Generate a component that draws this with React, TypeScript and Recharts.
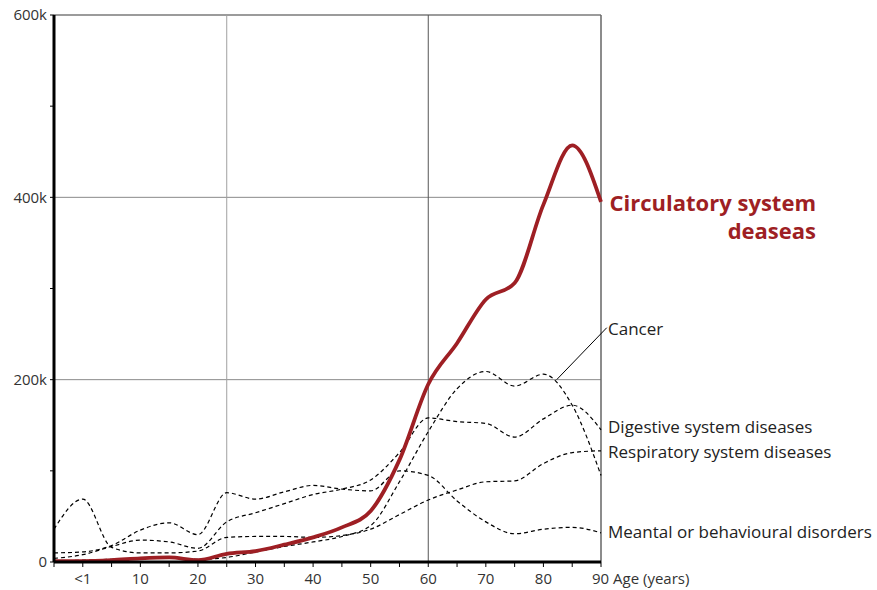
import React from 'react'
import {
  LineChart,
  Line,
  XAxis,
  YAxis,
  ReferenceLine,
  ReferenceDot,
} from 'recharts'

// age groups (-5 is the left edge, 0 is "<1")
const ages = [-5, 0, 5, 10, 15, 20, 25, 30, 35, 40, 45, 50, 55, 60, 65, 70, 75, 80, 85, 90]

// deaths, thousands
const circulatory = [1, 1, 2, 4, 5, 2, 9, 12, 19, 27, 38, 56, 112, 195, 240, 288, 306, 392, 457, 395]
const cancer = [1, 2, 3, 4, 4, 3, 5, 11, 17, 22, 28, 40, 88, 143, 190, 209, 193, 206, 172, 95]
const digestive = [4, 8, 17, 24, 22, 15, 44, 54, 64, 74, 80, 90, 120, 158, 154, 152, 137, 157, 172, 145]
const respiratory = [36, 69, 16, 10, 10, 12, 27, 28, 28, 27, 29, 36, 52, 68, 79, 88, 89, 108, 120, 122]
const mental = [10, 11, 18, 35, 43, 30, 76, 69, 77, 84, 80, 78, 100, 95, 67, 44, 31, 36, 38, 32]

const xTicks = [-5, 0, 5, 10, 15, 20, 25, 30, 35, 40, 45, 50, 55, 60, 65, 70, 75, 80, 85, 90]
const yTicks = [0, 100000, 200000, 300000, 400000, 500000, 600000]

const data = ages.map((age, i) => ({
  age,
  circulatory: circulatory[i] * 1000,
  cancer: cancer[i] * 1000,
  digestive: digestive[i] * 1000,
  respiratory: respiratory[i] * 1000,
  mental: mental[i] * 1000,
}))

const FONT = '"Open Sans", "Noto Sans", sans-serif'
const RED = '#9e1f24'

const XTick = ({ x, y, payload }: any) => {
  const v = payload.value
  let label = ''
  if (v === 0) label = '<1'
  else if (v > 0 && v % 10 === 0) label = String(v)
  if (!label) return null
  if (v === 90) {
    return (
      <text x={x - 9} y={y + 15} fontSize={15} fill="#333" fontFamily={FONT}>
        90 Age (years)
      </text>
    )
  }
  return (
    <text x={x} y={y + 15} textAnchor="middle" fontSize={15} fill="#333" fontFamily={FONT}>
      {label}
    </text>
  )
}

const yFormat = (v: number) => {
  if (v % 200000 !== 0) return ''
  return v === 0 ? '0' : `${v / 1000}k`
}

const sideLabel = (text: string) => (p: any) => {
  const { x, y, height } = p.viewBox
  return (
    <text x={x + 8} y={y + height / 2} dy="0.35em" fontSize={17} fill="#222" fontFamily={FONT}>
      {text}
    </text>
  )
}

const redLabel = (p: any) => {
  const { x, y } = p.viewBox
  return (
    <text textAnchor="end" fontSize={22} fontWeight={700} fill={RED} fontFamily={FONT}>
      <tspan x={x + 216} y={y + 10}>Circulatory system</tspan>
      <tspan x={x + 216} y={y + 38}>deaseas</tspan>
    </text>
  )
}

const dashed = { stroke: '#000', strokeWidth: 1.2, strokeDasharray: '4 3', dot: false, isAnimationActive: false }

export default function App() {
  return (
    <div style={{ position: 'absolute', left: 0, top: 0, width: 877, height: 590, background: '#fff' }}>
      <LineChart width={877} height={590} data={data} margin={{ top: 15, right: 276, bottom: 0, left: 4 }}>
        <ReferenceLine y={200000} stroke="#8a8a8a" />
        <ReferenceLine y={400000} stroke="#8a8a8a" />
        <ReferenceLine y={600000} stroke="#7a7a7a" strokeWidth={1.5} />
        <ReferenceLine x={25} stroke="#a0a0a0" />
        <ReferenceLine x={60} stroke="#555" />
        <ReferenceLine x={90} stroke="#666" strokeWidth={1.5} />
        <XAxis
          dataKey="age"
          type="number"
          domain={[-5, 90]}
          ticks={xTicks}
          interval={0}
          tick={<XTick />}
          axisLine={{ stroke: '#000', strokeWidth: 3 }}
          tickLine={{ stroke: '#000' }}
          tickSize={5}
          height={28}
        />
        <YAxis
          domain={[0, 600000]}
          ticks={yTicks}
          interval={0}
          tickFormatter={yFormat}
          axisLine={{ stroke: '#000', strokeWidth: 3 }}
          tickLine={{ stroke: '#000' }}
          tickSize={4}
          tickMargin={3}
          width={50}
          tick={{ fontSize: 15, fill: '#333', fontFamily: FONT }}
        />
        <Line type="monotone" dataKey="cancer" {...dashed} />
        <Line type="monotone" dataKey="digestive" {...dashed} />
        <Line type="monotone" dataKey="respiratory" {...dashed} />
        <Line type="monotone" dataKey="mental" {...dashed} />
        <Line
          type="monotone"
          dataKey="circulatory"
          stroke={RED}
          strokeWidth={3.8}
          dot={false}
          isAnimationActive={false}
        />
        <ReferenceLine
          segment={[{ x: 82.3, y: 200000 }, { x: 91, y: 257000 }]}
          stroke="#000"
          strokeWidth={1}
          ifOverflow="visible"
        />
        <ReferenceDot x={90} y={255000} r={1} fill="none" stroke="none" label={sideLabel('Cancer')} />
        <ReferenceDot x={90} y={148000} r={1} fill="none" stroke="none" label={sideLabel('Digestive system diseases')} />
        <ReferenceDot x={90} y={120500} r={1} fill="none" stroke="none" label={sideLabel('Respiratory system diseases')} />
        <ReferenceDot x={90} y={33000} r={1} fill="none" stroke="none" label={sideLabel('Meantal or behavioural disorders')} />
        <ReferenceDot x={90} y={395000} r={1} fill="none" stroke="none" label={redLabel} />
      </LineChart>
    </div>
  )
}
